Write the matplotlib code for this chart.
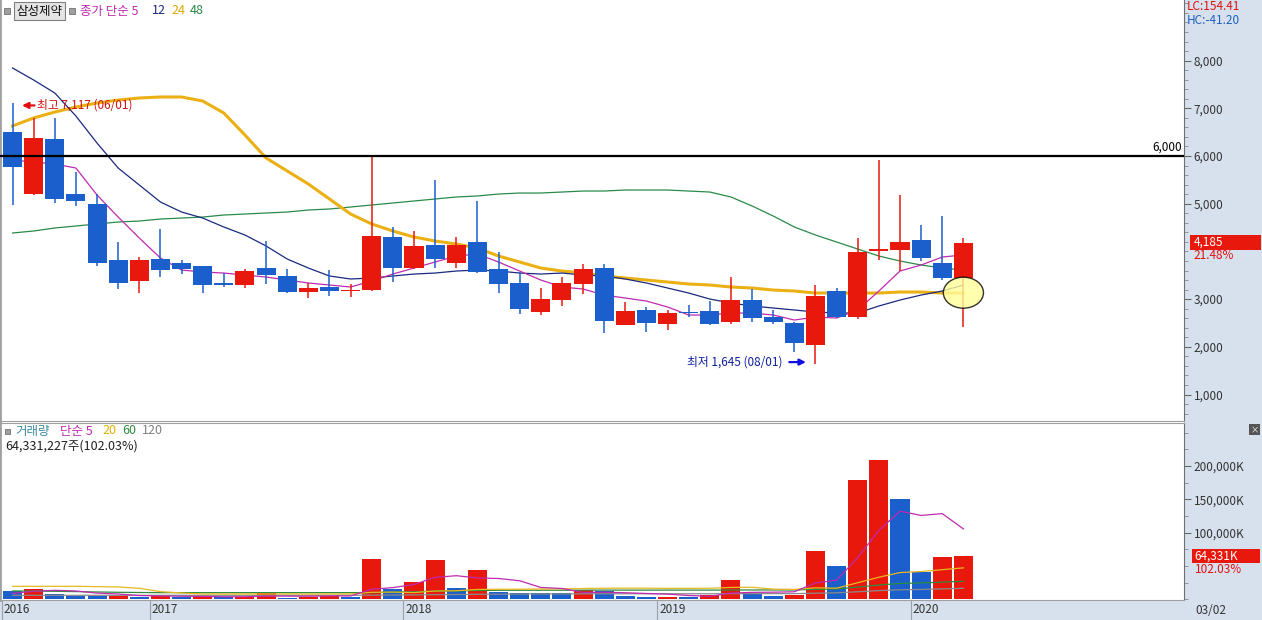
import numpy as np
import matplotlib
matplotlib.use("Agg")
import matplotlib.pyplot as plt
from matplotlib.patches import Rectangle, Ellipse
from matplotlib.ticker import MultipleLocator, FixedLocator
from matplotlib.transforms import blended_transform_factory, ScaledTranslation

plt.rcParams['font.family'] = ['Noto Sans CJK KR', 'DejaVu Sans']

# monthly candles, 2016-06 .. 2020-03
opens = [6500, 5210, 6356, 5200, 4990, 3820, 3386, 3840, 3757, 3694, 3330, 3302, 3652, 3484, 3155, 3254,
         3170, 3200, 4302, 3658, 4134, 3763, 4197, 3631, 3338, 2736, 2988, 3323, 3652, 2463, 2771, 2484,
         2723, 2751, 2526, 2981, 2631, 2505, 2044, 3170, 2631, 4008, 4036, 4239, 3757, 3442]
highs = [7117, 6790, 6800, 5665, 5210, 4200, 3890, 4470, 3820, 3700, 3554, 3631, 4218, 3631, 3344, 3610,
         3317, 6010, 4512, 4434, 5497, 4302, 5057, 3981, 3574, 3243, 3470, 3736, 3736, 2939, 2841, 2771,
         2876, 2960, 3470, 3212, 2771, 2526, 3296, 3233, 4281, 5916, 5182, 4553, 4742, 4281]
lows = [4970, 5190, 5020, 4960, 3700, 3210, 3134, 3470, 3520, 3134, 3247, 3243, 3323, 3134, 3017, 3071,
        3038, 3180, 3365, 3640, 3658, 3658, 3554, 3134, 2694, 2673, 2862, 3113, 2296, 2450, 2317, 2358,
        2631, 2463, 2484, 2526, 2484, 1897, 1645, 2610, 2589, 3820, 3589, 3799, 3400, 2421]
closes = [5760, 6380, 5105, 5060, 3760, 3340, 3820, 3616, 3637, 3302, 3300, 3589, 3512, 3155, 3233, 3176,
          3197, 4320, 3658, 4113, 3847, 4134, 3574, 3323, 2799, 3002, 3338, 3631, 2547, 2751, 2505, 2709,
          2709, 2484, 2981, 2610, 2526, 2086, 3071, 2631, 3987, 4050, 4197, 3862, 3445, 4185]

# price moving averages
ma5 = [5916, 5874, 5832, 5748, 5182, 4721, 4281, 3862, 3610, 3568, 3547, 3505, 3463, 3401, 3338, 3296,
       3254, 3380, 3526, 3652, 3778, 3903, 3945, 3778, 3589, 3401, 3254, 3212, 3086, 3023, 2960, 2835,
       2667, 2667, 2709, 2709, 2667, 2562, 2625, 2604, 2772, 3170, 3589, 3715, 3883, 3925]
ma12 = [7845, 7593, 7321, 6838, 6272, 5748, 5392, 5036, 4826, 4700, 4512, 4344, 4114, 3841, 3652, 3485,
        3422, 3443, 3485, 3526, 3547, 3589, 3610, 3589, 3547, 3526, 3547, 3505, 3485, 3422, 3338, 3233,
        3128, 3002, 2918, 2856, 2814, 2772, 2730, 2709, 2709, 2856, 2981, 3086, 3170, 3296]
ma24 = [6629, 6797, 6922, 7027, 7111, 7174, 7216, 7237, 7237, 7153, 6901, 6440, 5958, 5686, 5413, 5099,
        4784, 4575, 4428, 4302, 4218, 4155, 4071, 3904, 3778, 3652, 3589, 3547, 3485, 3443, 3401, 3359,
        3317, 3296, 3254, 3233, 3191, 3170, 3128, 3128, 3128, 3128, 3149, 3149, 3128, 3128]
ma48 = [4386, 4428, 4491, 4533, 4575, 4617, 4637, 4679, 4700, 4721, 4763, 4784, 4805, 4826, 4868, 4889,
        4931, 4973, 5015, 5057, 5099, 5141, 5162, 5203, 5224, 5224, 5245, 5266, 5266, 5287, 5287, 5287,
        5266, 5245, 5141, 4952, 4742, 4512, 4344, 4197, 4050, 3904, 3799, 3715, 3652, 3610]

# volume in thousand shares
volume = [12500, 15500, 8000, 5400, 5300, 5500, 3900, 5400, 3000, 3900, 3000, 3900, 10500, 2400, 3000, 5400,
          3900, 60500, 15000, 26000, 59000, 16500, 44000, 10500, 9000, 8900, 8800, 14000, 12500, 5000, 3500, 3900,
          3600, 6500, 29000, 9000, 5400, 6500, 72500, 50000, 179000, 209000, 150500, 40500, 63500, 64331]
vma5 = [9000, 12000, 13500, 12500, 9340, 7940, 5620, 5100, 4620, 4340, 3840, 3840, 4860, 4740, 4560, 5040,
        5040, 15040, 17560, 22160, 32880, 35400, 32100, 31200, 27800, 17780, 16240, 10240, 10640, 9840, 8760, 7780,
        5700, 4500, 9300, 10400, 10700, 11280, 24480, 28680, 62680, 103400, 132200, 125800, 128500, 105566]
vma20 = [19500, 19500, 19500, 19500, 19000, 18500, 16500, 11500, 9500, 8000, 8000, 8000, 8000, 8000, 8000, 8000,
         8000, 10500, 10800, 10100, 12425, 12850, 14780, 15040, 15215, 15465, 15635, 16185, 16615, 16715, 16695, 16365,
         16425, 16600, 17780, 18035, 15280, 14855, 17180, 16730, 24855, 33105, 40105, 41680, 44410, 47187]
vma60 = [12500, 12300, 12000, 11500, 11000, 10500, 10200, 10000, 10000, 10000, 10000, 10000, 10000, 10000, 10000, 10000,
         10000, 10000, 10800, 11300, 12200, 12500, 13200, 13500, 13500, 13600, 13600, 13700, 13800, 13800, 13800, 13800,
         13800, 13800, 13900, 14000, 14000, 14000, 14800, 15500, 18200, 21500, 23800, 24500, 25800, 27000]
vma120 = [6000, 6000, 6000, 6000, 6000, 6000, 6000, 6000, 6000, 6000, 6000, 6000, 6000, 6000, 6000, 6000,
          6000, 6200, 6400, 6600, 7000, 7200, 7500, 7700, 7900, 8000, 8100, 8200, 8300, 8300, 8300, 8300,
          8300, 8300, 8400, 8500, 8500, 8500, 9200, 9700, 11300, 13000, 14300, 14800, 15600, 16500]

years = ['2016', '2017', '2018', '2019', '2020']
year_start = [0, 7, 19, 31, 43]

RED = '#E8190C'
BLUE = '#1A5FCC'
STRIP = '#D7E1EE'
W, H = 1262, 620


def px_rect(x0, y0, x1, y1):
    return [x0 / W, 1 - y1 / H, (x1 - x0) / W, (y1 - y0) / H]


def ftext(x, y, s, **kw):
    kw.setdefault('va', 'center')
    kw.setdefault('fontsize', 8.5)
    return fig.text(x / W, 1 - y / H, s, **kw)


fig = plt.figure(figsize=(W / 100, H / 100), dpi=100)
fig.patch.set_facecolor('white')
fig.add_artist(Rectangle((1184 / W, 0), 78 / W, 1, transform=fig.transFigure,
                         facecolor=STRIP, edgecolor='none', zorder=-5))
fig.add_artist(Rectangle((0, 0), 1, 20 / H, transform=fig.transFigure,
                         facecolor=STRIP, edgecolor='none', zorder=-5))

ax = fig.add_axes(px_rect(0, 0, 1184, 421))
axv = fig.add_axes(px_rect(0, 423, 1184, 600))

idx = np.arange(len(closes))
o = np.array(opens, float)
c = np.array(closes, float)
up = c > o
cols = [RED if u else BLUE for u in up]

# moving averages
ax.plot(idx, ma48, color='#2A8A4A', lw=0.9, zorder=2)
ax.plot(idx, ma24, color='#EBB014', lw=2.2, zorder=2)
ax.plot(idx, ma12, color='#1A2A80', lw=0.9, zorder=2)
ax.plot(idx, ma5, color='#C02AB0', lw=0.9, zorder=2)

# candles
ax.vlines(idx, lows, highs, colors=cols, lw=1.1, zorder=3)
body_lo = np.minimum(o, c)
body_h = np.maximum(np.abs(c - o), 25)
ax.bar(idx, body_h, bottom=body_lo, width=0.9, color=cols, lw=0, zorder=4)

ax.axhline(6000, color='black', lw=1.6, zorder=6)
ax.text(0.998, 6000 + 60, '6,000', transform=blended_transform_factory(ax.transAxes, ax.transData),
        ha='right', va='bottom', fontsize=8.5, color='black')

ax.set_xlim(-0.592, 55.44)
ax.set_ylim(445.6, 9270)

# high / low markers
ax.annotate('최고 7,117 (06/01)', xy=(0.45, 7060), xytext=(11, 0), textcoords='offset points',
            ha='left', va='center', fontsize=8.5, color='#D01010',
            arrowprops=dict(arrowstyle='-|>', color='#E01010', lw=1.6, shrinkA=0, shrinkB=0, mutation_scale=9))
ax.annotate('최저 1,645 (08/01)', xy=(37.55, 1680), xytext=(-17, 0), textcoords='offset points',
            ha='right', va='center', fontsize=8.5, color='#1020A0',
            arrowprops=dict(arrowstyle='-|>', color='#1010E0', lw=1.6, shrinkA=3, shrinkB=0, mutation_scale=9))

ax.add_patch(Ellipse((45, 3135), 1.9, 650, facecolor='#FFFF99', edgecolor='black', lw=1.0, alpha=0.8, zorder=7))

# price axis
ax.yaxis.tick_right()
ax.yaxis.set_major_locator(FixedLocator([1000, 2000, 3000, 5000, 6000, 7000, 8000]))
ax.yaxis.set_major_formatter(matplotlib.ticker.FuncFormatter(lambda v, p: f'{int(v):,}'))
ax.yaxis.set_minor_locator(MultipleLocator(200))
ax.tick_params(axis='y', which='major', direction='out', length=5, width=0.8, color='#666666',
               labelsize=8.5, labelcolor='#333333', pad=2)
ax.tick_params(axis='y', which='minor', direction='out', length=3, width=0.6, color='#888888')
ax.set_xticks([])
ax.spines['top'].set_visible(False)
ax.spines['left'].set_color('#A0A0A0')
ax.spines['left'].set_linewidth(2)
ax.spines['right'].set_color('#707070')
ax.spines['bottom'].set_color('#A0A0A0')

# last price box
bt = blended_transform_factory(ax.transAxes, ax.transData)
ax.add_patch(Rectangle((1.005, closes[-1] - 150), 0.06, 300, transform=bt, facecolor=RED,
                       edgecolor='none', clip_on=False, zorder=8))
ax.text(1.008, closes[-1], f'{closes[-1]:,}', transform=bt, color='white', fontsize=8.5,
        va='center', ha='left', zorder=9)
ax.text(1.008, closes[-1] - 270, '21.48%', transform=bt, color='#E01010', fontsize=8.5,
        va='center', ha='left', zorder=9)

# volume panel
vcols = [BLUE] + [RED if volume[i] >= volume[i - 1] else BLUE for i in range(1, len(volume))]
axv.bar(idx, volume, width=0.9, color=vcols, lw=0, zorder=2)
axv.plot(idx, vma120, color='#8A8A8A', lw=0.9, zorder=3)
axv.plot(idx, vma60, color='#2E8B3E', lw=0.9, zorder=3)
axv.plot(idx, vma20, color='#E8B820', lw=0.9, zorder=3)
axv.plot(idx, vma5, color='#C02AB0', lw=0.9, zorder=3)
axv.set_xlim(-0.592, 55.44)
axv.set_ylim(-1050, 264450)
axv.yaxis.tick_right()
axv.yaxis.set_major_locator(FixedLocator([100000, 150000, 200000]))
axv.yaxis.set_major_formatter(matplotlib.ticker.FuncFormatter(lambda v, p: f'{int(v):,}K'))
axv.yaxis.set_minor_locator(MultipleLocator(25000))
axv.tick_params(axis='y', which='major', direction='out', length=5, width=0.8, color='#666666',
                labelsize=8.5, labelcolor='#333333', pad=2)
axv.tick_params(axis='y', which='minor', direction='out', length=3, width=0.6, color='#888888')
for s in ['top', 'bottom']:
    axv.spines[s].set_color('#A0A0A0')
axv.spines['left'].set_color('#A0A0A0')
axv.spines['left'].set_linewidth(2)
axv.spines['right'].set_color('#707070')

axv.set_xticks([year_start[i] - 0.5 for i in range(len(years))], years)
axv.tick_params(axis='x', direction='out', length=14.4, width=0.8, color='#9AA0A8',
                labelsize=8.5, labelcolor='#333333', pad=-12.5)
for lab in axv.get_xticklabels():
    lab.set_ha('left')
    lab.set_transform(lab.get_transform() + ScaledTranslation(2 / 100, 0, fig.dpi_scale_trans))

vt = blended_transform_factory(axv.transAxes, axv.transData)
axv.add_patch(Rectangle((1.0065, volume[-1] - 10500), 0.058, 21000, transform=vt, facecolor=RED,
                        edgecolor='none', clip_on=False, zorder=8))
axv.text(1.009, volume[-1], f'{volume[-1]:,}K', transform=vt, color='white', fontsize=8.5,
         va='center', ha='left', zorder=9)
axv.text(1.009, volume[-1] - 19500, '102.03%', transform=vt, color='#E01010', fontsize=8.5,
         va='center', ha='left', zorder=9)

# header texts
fig.add_artist(Rectangle((4 / W, 1 - 14 / H), 6 / W, 6 / H, transform=fig.transFigure,
                         facecolor='#A0A0A0', edgecolor='#707070', lw=0.6))
ftext(39.5, 11, '삼성제약', ha='center', fontsize=9, color='#111111',
      bbox=dict(boxstyle='square,pad=0.22', facecolor='#E4E4E4', edgecolor='#808080', lw=0.8))
fig.add_artist(Rectangle((69 / W, 1 - 14 / H), 6 / W, 6 / H, transform=fig.transFigure,
                         facecolor='#A0A0A0', edgecolor='#707070', lw=0.6))
ftext(80, 11, '종가 단순 5', color='#C02AB0', fontsize=9)
ftext(152, 11, '12', color='#1A2A80', fontsize=9)
ftext(171, 11, '24', color='#E0A800', fontsize=9)
ftext(190, 11, '48', color='#2A8A4A', fontsize=9)

ftext(1187, 7, 'LC:154.41', color='#E01010', fontsize=8.5)
ftext(1187, 20, 'HC:-41.20', color='#2060C0', fontsize=8.5)

fig.add_artist(Rectangle((5 / W, 1 - 434 / H), 5 / W, 5 / H, transform=fig.transFigure,
                         facecolor='#A0A0A0', edgecolor='#707070', lw=0.6))
ftext(15, 431, '거래량', color='#3A8CA0', fontsize=9)
ftext(60, 431, '단순 5', color='#C02AB0', fontsize=9)
ftext(102, 431, '20', color='#E0B000', fontsize=9)
ftext(122, 431, '60', color='#2E8B3E', fontsize=9)
ftext(142, 431, '120', color='#808080', fontsize=9)
ftext(5, 446, '64,331,227주(102.03%)', color='#202020', fontsize=9)

ftext(1254.5, 429.5, '×', ha='center', color='white', fontsize=6,
      bbox=dict(boxstyle='square,pad=0.1', facecolor='#555555', edgecolor='none'))
ftext(1195, 610, '03/02', color='#333333', fontsize=8.5)

fig.savefig('out.png', dpi=100, facecolor='white')
